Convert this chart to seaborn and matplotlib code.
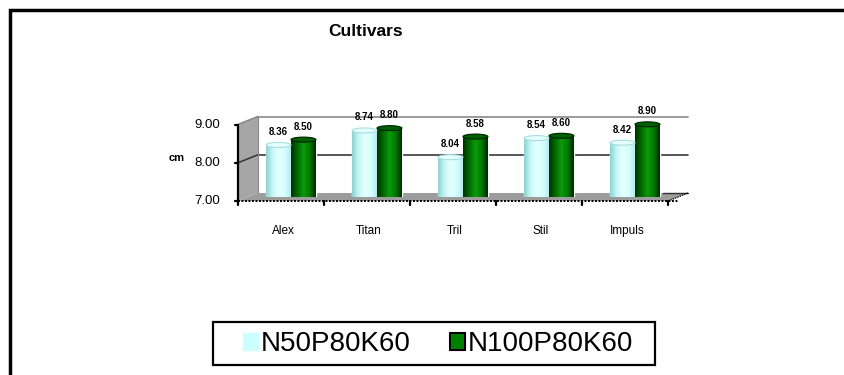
import numpy as np
import pandas as pd
import matplotlib
matplotlib.use("Agg")
import matplotlib.pyplot as plt
from matplotlib.patches import Polygon, Ellipse, Rectangle, Patch
from matplotlib.colors import LinearSegmentedColormap
import seaborn as sns

# ---- data ----
cultivars = ["Alex", "Titan", "Tril", "Stil", "Impuls"]
treatments = ["N50P80K60", "N100P80K60"]
n50_values = [8.36, 8.74, 8.04, 8.54, 8.42]
n100_values = [8.50, 8.80, 8.58, 8.60, 8.90]
y_ticks = [7.0, 8.0, 9.0]
y_label = "cm"
title = "Cultivars"

colors = {"N50P80K60": "#CCFFFF", "N100P80K60": "#008000"}

df = pd.DataFrame({
    "cultivar": cultivars * 2,
    "treatment": [treatments[0]] * len(cultivars) + [treatments[1]] * len(cultivars),
    "value": n50_values + n100_values,
})

sns.set_theme(style="white")
plt.rcParams["font.family"] = ["Liberation Sans", "DejaVu Sans"]
plt.rcParams["text.color"] = "black"

W, H = 844, 375
fig = plt.figure(figsize=(W / 100, H / 100), dpi=100)

# pixel-space overlay for the 3-D box (y grows downward)
bg = fig.add_axes([0, 0, 1, 1], zorder=0)
bg.set_xlim(0, W)
bg.set_ylim(H, 0)
bg.axis("off")

# mid-depth plane where the bars sit
MID_L, MID_R = 248.0, 678.0
MID_BOT, MID_TOP = 197.0, 120.5
DX, DY = 10.0, 4.0       # half depth offset (front = -DX,+DY ; back = +DX,-DY)
YMIN, YMAX = y_ticks[0], y_ticks[-1]


def ymid(v):
    return MID_BOT - (v - YMIN) / (YMAX - YMIN) * (MID_BOT - MID_TOP)


ax = fig.add_axes([MID_L / W, 1 - MID_BOT / H, (MID_R - MID_L) / W,
                   (MID_BOT - MID_TOP) / H], zorder=2)
ax.patch.set_alpha(0)

# outer chart frame
bg.plot([10, 10, W + 5], [H + 5, 10, 10], color="black", lw=2.5,
        solid_joinstyle="miter")

fl, fr = MID_L - DX, MID_R - DX      # front plane x range
bl, br = MID_L + DX, MID_R + DX      # back plane x range

# left wall and floor
bg.add_patch(Polygon([(fl, ymid(YMAX) + DY), (bl, ymid(YMAX) - DY),
                      (bl, ymid(YMIN) - DY), (fl, ymid(YMIN) + DY)],
                     closed=True, facecolor="#a6a6a6", edgecolor="none"))
bg.add_patch(Polygon([(fl, ymid(YMIN) + DY), (fr, ymid(YMIN) + DY),
                      (br, ymid(YMIN) - DY), (bl, ymid(YMIN) - DY)],
                     closed=True, facecolor="#9c9c9c", edgecolor="none"))

# gridlines on back and left walls
for v in y_ticks[1:]:
    yb, yf = ymid(v) - DY, ymid(v) + DY
    col = "#3a3a3a" if v < YMAX else "#8a8a8a"
    bg.plot([bl, br], [yb, yb], color=col, lw=1.2)
    bg.plot([fl, bl], [yf, yb], color=col, lw=1.2)
bg.plot([bl, bl], [ymid(YMAX) - DY, ymid(YMIN) - DY], color="#8a8a8a", lw=0.8)
bg.plot([br - 25, br], [ymid(YMIN) - DY] * 2, color="#303030", lw=1.0)

# front value axis
bg.plot([fl, fl], [ymid(YMAX) + DY, ymid(YMIN) + DY], color="black", lw=1.6)
for v in y_ticks:
    yf = ymid(v) + DY
    bg.plot([fl - 3, fl], [yf, yf], color="black", lw=1.6)
    bg.text(fl - 18, yf, f"{v:.2f}", ha="right", va="center", fontsize=9.5)
bg.text(177, ymid(8.0) + DY - 5, y_label, ha="center", va="center",
        fontsize=8, fontweight="bold")

# front category axis
bg.plot([fl, fr + 10], [ymid(YMIN) + DY] * 2, color="black", lw=1.4,
        linestyle=(0, (1, 0.8)))
bg.plot([fr, br], [ymid(YMIN) + DY, ymid(YMIN) - DY], color="black", lw=1.0,
        linestyle=(0, (1, 0.8)))
step = (fr - fl) / len(cultivars)
for i in range(len(cultivars) + 1):
    x = fl + i * step
    bg.plot([x, x], [ymid(YMIN) + DY, ymid(YMIN) + DY + 4], color="black", lw=1.6)
for i, name in enumerate(cultivars):
    bg.text(fl + (i + 0.5) * step + 2, 231, name, ha="center", va="center",
            fontsize=8.5)

bg.text(366, 32, title, ha="center", va="center", fontsize=12.5,
        fontweight="bold")

# ---- bars ----
sns.barplot(data=df, x="cultivar", y="value", hue="treatment",
            order=cultivars, hue_order=treatments, palette=colors,
            width=0.58, saturation=1, ax=ax, legend=False)
ax.set_xlim(-0.5, len(cultivars) - 0.5)
ax.set_ylim(YMIN, YMAX)
ax.axis("off")

shade = {
    "N50P80K60": LinearSegmentedColormap.from_list(
        "c", ["#8fd0d0", "#c4f6f6", "#e6ffff", "#d4ffff", "#b8ecec"]),
    "N100P80K60": LinearSegmentedColormap.from_list(
        "g", ["#003000", "#006a00", "#0b9a0b", "#007a00", "#002a00"]),
}
tops = {"N50P80K60": ("#e4ffff", "#a8dede"), "N100P80K60": ("#006000", "#002000")}
grad = np.linspace(0, 1, 64).reshape(1, -1)
cap_h = 5.0 / (MID_BOT - MID_TOP) * (YMAX - YMIN)

for container, tr in zip(ax.containers, treatments):
    for bar in container:
        x0, w, h = bar.get_x(), bar.get_width(), bar.get_height()
        im = ax.imshow(grad, cmap=shade[tr], aspect="auto",
                       extent=(x0, x0 + w, YMIN, h), zorder=bar.get_zorder() + 0.1)
        im.set_clip_path(bar)
        fc, ec = tops[tr]
        ax.add_patch(Ellipse((x0 + w / 2, h), w, cap_h, facecolor=fc,
                             edgecolor=ec, lw=0.8, zorder=bar.get_zorder() + 0.2))
        ax.annotate(f"{h:.2f}", (x0 + w / 2, h), xytext=(0, 8),
                    textcoords="offset pixels", ha="center", va="bottom",
                    fontsize=7, fontweight="bold", zorder=5)
ax.set_xlim(-0.5, len(cultivars) - 0.5)
ax.set_ylim(YMIN, YMAX)

# ---- legend ----
bg.add_patch(Rectangle((213, 322), 442, 43, facecolor="white",
                       edgecolor="black", lw=1.6))
handles = [Patch(facecolor=colors[treatments[0]], edgecolor=colors[treatments[0]]),
           Patch(facecolor=colors[treatments[1]], edgecolor="black", linewidth=1.5)]
leg = fig.legend(handles, treatments, loc="center",
                 bbox_to_anchor=(438 / W, 1 - 344 / H), ncol=2,
                 fontsize=20, frameon=False,
                 handlelength=0.55, handleheight=0.55, handletextpad=0.1,
                 columnspacing=1.4)
for t in leg.get_texts():
    t.set_color("black")

fig.savefig("out.png", dpi=100)
